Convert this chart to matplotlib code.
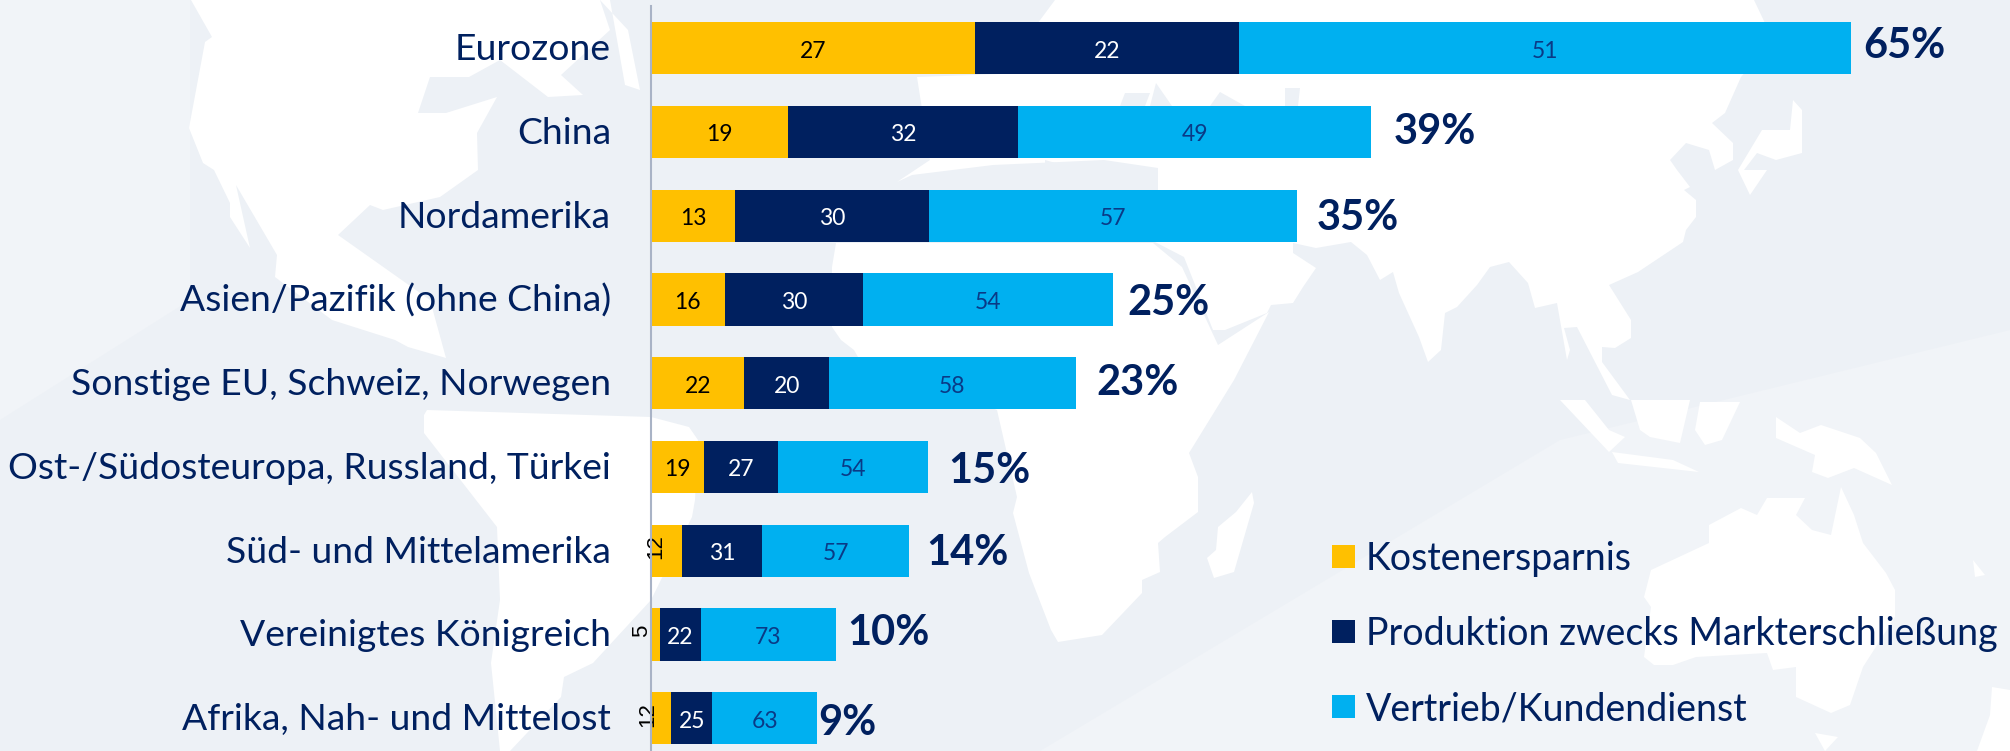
import matplotlib
matplotlib.use('Agg')
import matplotlib.pyplot as plt
from matplotlib.patches import Polygon, Rectangle

regions = ['Eurozone', 'China', 'Nordamerika', 'Asien/Pazifik (ohne China)',
           'Sonstige EU, Schweiz, Norwegen', 'Ost-/Südosteuropa, Russland, Türkei',
           'Süd- und Mittelamerika', 'Vereinigtes Königreich', 'Afrika, Nah- und Mittelost']
totals = [65, 39, 35, 25, 23, 15, 14, 10, 9]
kosten = [27, 19, 13, 16, 22, 19, 12, 5, 12]
produktion = [22, 32, 30, 30, 20, 27, 31, 22, 25]
vertrieb = [51, 49, 57, 54, 58, 54, 57, 73, 63]
legend_labels = ['Kostenersparnis', 'Produktion zwecks Markterschließung', 'Vertrieb/Kundendienst']

GOLD = '#FFC000'
NAVY = '#00205F'
CYAN = '#00B0F0'
BG = '#EDF1F6'
FONT = ['Lato', 'DejaVu Sans']

# lighter wash in the ocean, lower right and far left
wash = [
    [(1040, 751), (1560, 440), (2010, 330), (2010, 751)],
    [(0, 0), (190, 0), (190, 300), (0, 420)],
]
# backdrop map, in pixels of the picture
land = [
    # north america
    [(191, 0), (212, 37), (205, 42), (189, 128), (203, 163), (214, 170), (230, 203), (230, 217), (250, 248), (236, 185),
     (277, 255), (275, 277), (332, 320), (395, 340), (408, 347), (446, 358), (430, 300), (338, 235), (370, 205),
     (383, 210), (440, 197), (478, 170), (477, 133), (497, 97), (446, 113), (418, 113), (430, 77), (469, 77), (500, 60),
     (548, 97), (583, 95), (561, 75), (610, 30), (600, 0)],
    # greenland
    [(610, 0), (625, 85), (640, 90), (628, 30), (600, 0)],
    # south america
    [(424, 415), (427, 410), (651, 417), (689, 427), (698, 440), (695, 500), (692, 517), (651, 600), (593, 663),
     (564, 677), (561, 697), (510, 751), (500, 751), (491, 663), (500, 600), (497, 527), (424, 433)],
    # eurasia
    [(1055, 0), (1754, 0), (1773, 40), (1741, 77), (1725, 113), (1712, 123), (1733, 143), (1733, 160), (1715, 170),
     (1709, 150), (1686, 143), (1670, 160), (1677, 170), (1690, 187), (1684, 190), (1696, 200), (1696, 217),
     (1686, 230), (1683, 242), (1638, 272), (1609, 285), (1631, 320), (1631, 338), (1615, 348), (1602, 347),
     (1602, 362), (1630, 400), (1612, 395), (1577, 327), (1564, 328), (1570, 350), (1567, 360), (1557, 303),
     (1535, 308), (1528, 283), (1509, 262), (1490, 267), (1477, 285), (1457, 307), (1445, 313), (1441, 350),
     (1428, 362), (1419, 337), (1399, 293), (1393, 272), (1380, 280), (1367, 255), (1351, 242), (1316, 248),
     (1293, 243), (1293, 253), (1316, 268), (1303, 287), (1293, 303), (1271, 305), (1267, 313), (1225, 330),
     (1213, 330), (1184, 257), (1155, 242), (1158, 190), (1158, 168), (1104, 160), (993, 165), (912, 175),
     (897, 182), (930, 160), (917, 77), (1000, 74)],
    # africa
    [(836, 243), (1153, 243), (1182, 267), (1211, 330), (1218, 345), (1269, 312), (1234, 380), (1189, 453), (1198, 477),
     (1198, 512), (1165, 537), (1158, 543), (1160, 572), (1142, 580), (1142, 593), (1102, 635), (1058, 642),
     (1051, 630), (1029, 573), (1013, 513), (1017, 497), (997, 410), (858, 357), (854, 350), (841, 340), (832, 327),
     (832, 267)],
    # madagascar
    [(1252, 492), (1254, 503), (1234, 572), (1214, 578), (1207, 558), (1216, 550), (1218, 527), (1236, 512)],
    # japan and the islands north of it
    [(1793, 100), (1802, 110), (1802, 153), (1776, 160), (1757, 153), (1744, 170), (1767, 170), (1750, 195), (1738, 170),
     (1762, 130), (1790, 130)],
    # indonesia
    [(1560, 400), (1585, 400), (1609, 430), (1625, 437), (1609, 452)],
    [(1612, 452), (1673, 460), (1699, 472), (1618, 463)],
    [(1631, 400), (1690, 400), (1680, 443), (1650, 437), (1640, 430)],
    [(1700, 402), (1740, 402), (1722, 440), (1705, 445), (1695, 430)],
    [(1776, 417), (1800, 433), (1821, 425), (1860, 438), (1876, 453), (1892, 485), (1854, 468), (1828, 478), (1812, 472),
     (1815, 455), (1776, 438)],
    # australia
    [(1651, 570), (1709, 543), (1709, 525), (1741, 508), (1757, 515), (1767, 498), (1805, 498), (1796, 515), (1812, 530),
     (1831, 535), (1841, 487), (1854, 515), (1863, 543), (1886, 573), (1895, 590), (1895, 617), (1863, 667),
     (1850, 705), (1831, 713), (1796, 697), (1796, 667), (1773, 670), (1767, 653), (1696, 657), (1673, 665),
     (1654, 665), (1644, 657), (1651, 607), (1644, 597)],
    # tasmania and new zealand
    [(1815, 733), (1838, 737), (1825, 751)],
    [(1973, 560), (1985, 575), (1975, 577)],
    [(1992, 687), (2010, 690), (2010, 751), (1977, 751), (1990, 715)],
]
# inland seas, drawn back over the land
seas = [
    [(1125, 93), (1150, 93), (1145, 106), (1120, 106)],
    [(1156, 83), (1172, 106), (1150, 106)],
    [(1220, 92), (1245, 106), (1210, 106)],
    [(1285, 88), (1300, 88), (1298, 106), (1285, 106)],
    [(1045, 160), (1080, 170), (1070, 190), (1045, 190)],
]

px_per_unit = 18.46
axis_px = 651
row_px = 83.75
first_row_px = 48.2
bar_height = 52.3 / row_px
W, H = 2010, 751

# distance from bar end to the total label, baseline shift of that label (px)
total_gap = [12, 23, 20, 15, 21, 20, 17, 12, 1]
total_base = [10, 12.5, 14, 15.6, 11.8, 16, 14, 10.6, 17]
# the thin gold bars carry their number turned and pushed to the left
small_shift = {6: -10.5, 7: -13.6, 8: -13}

fig = plt.figure(figsize=(W / 100, H / 100), dpi=100, facecolor=BG)
bg = fig.add_axes([0, 0, 1, 1])
bg.set_xlim(0, W)
bg.set_ylim(H, 0)
bg.set_axis_off()
for pts in wash:
    bg.add_patch(Polygon(pts, closed=True, fc='#F1F4F8', ec='none'))
for pts in land:
    bg.add_patch(Polygon(pts, closed=True, fc='white', ec='none'))
for pts in seas:
    bg.add_patch(Polygon(pts, closed=True, fc=BG, ec='none'))

ax = fig.add_axes([0, 0, 1, 1], zorder=2)
ax.set_xlim(-axis_px / px_per_unit, (W - axis_px) / px_per_unit)
ax.set_ylim((H - first_row_px) / row_px, -first_row_px / row_px)
ax.set_axis_off()
ax.patch.set_alpha(0)

for i, region in enumerate(regions):
    unit = totals[i] / 100
    left = 0
    for j, (val, col, txt) in enumerate(((kosten[i], GOLD, 'black'), (produktion[i], NAVY, 'white'),
                                         (vertrieb[i], CYAN, '#0A3A86'))):
        w = val * unit
        ax.barh(i, w, left=left, height=bar_height, color=col, linewidth=0)
        if j == 0 and w < 2:
            ax.text(left + w / 2 + small_shift[i] / px_per_unit, i - 4 / row_px, str(val), rotation=90,
                    ha='center', va='center', fontsize=16, color='black', family='Liberation Sans')
        else:
            ax.text(left + w / 2, i + 9.5 / row_px, str(val), ha='center', va='baseline', fontsize=16.5,
                    color=txt, family=FONT)
        left += w
    ax.text(totals[i] + total_gap[i] / px_per_unit, i + total_base[i] / row_px, f'{totals[i]}%', ha='left',
            va='baseline', fontsize=30, color=NAVY, family=FONT, fontweight='bold')
    ax.text(-40 / px_per_unit, i + 12 / row_px, region, ha='right', va='baseline', fontsize=26.8, color=NAVY,
            family=FONT)

ax.plot([0, 0], [(6 - first_row_px) / row_px, (H - first_row_px) / row_px], color='#A9B3C6', lw=1.5, zorder=5)

leg_x = 1332
leg_base = [570, 645, 720]
for label, col, y in zip(legend_labels, (GOLD, NAVY, CYAN), leg_base):
    bg.add_patch(Rectangle((leg_x, y - 25), 23, 23, fc=col, ec='none'))
    bg.text(leg_x + 34, y, label, ha='left', va='baseline', fontsize=27, color=NAVY, family=FONT)

fig.savefig('out.png', dpi=100, facecolor=BG)
